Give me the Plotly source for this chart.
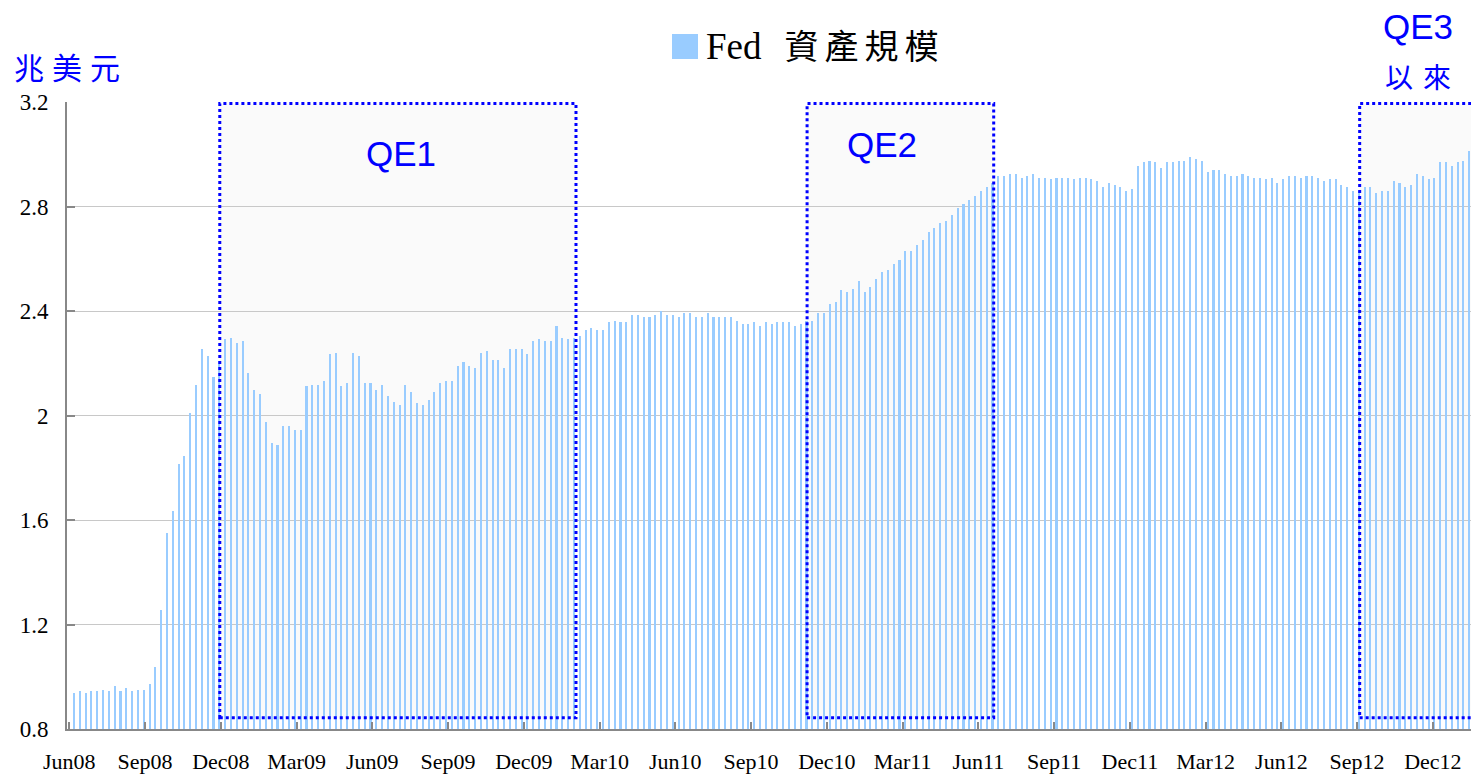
import plotly.graph_objects as go

# Weekly Fed total assets (trillion USD), first week = early Jun 2008
fed_assets = [
    0.939, 0.947, 0.939, 0.947, 0.947, 0.950, 0.947, 0.965, 0.947, 0.958,
    0.947, 0.950, 0.950, 0.973, 1.037, 1.255, 1.551, 1.634, 1.814, 1.845,
    2.010, 2.117, 2.255, 2.228, 2.147, 2.210, 2.293, 2.297, 2.278, 2.285,
    2.163, 2.098, 2.082, 1.975, 1.895, 1.887, 1.960, 1.960, 1.945, 1.945,
    2.113, 2.117, 2.117, 2.132, 2.235, 2.239, 2.113, 2.124, 2.239, 2.228,
    2.124, 2.124, 2.098, 2.117, 2.075, 2.052, 2.040, 2.117, 2.090, 2.048,
    2.040, 2.059, 2.090, 2.124, 2.132, 2.132, 2.189, 2.205, 2.189, 2.182,
    2.239, 2.247, 2.213, 2.213, 2.182, 2.255, 2.255, 2.255, 2.235, 2.285,
    2.293, 2.285, 2.285, 2.343, 2.297, 2.293, 2.297, 2.304, 2.327, 2.335,
    2.327, 2.327, 2.358, 2.362, 2.358, 2.358, 2.385, 2.385, 2.377, 2.377,
    2.385, 2.400, 2.385, 2.385, 2.377, 2.392, 2.392, 2.377, 2.377, 2.392,
    2.377, 2.377, 2.377, 2.377, 2.362, 2.351, 2.351, 2.358, 2.344, 2.358,
    2.351, 2.358, 2.358, 2.358, 2.344, 2.351, 2.360, 2.362, 2.392, 2.392,
    2.427, 2.435, 2.480, 2.473, 2.484, 2.515, 2.473, 2.492, 2.523, 2.549,
    2.557, 2.580, 2.595, 2.630, 2.630, 2.653, 2.672, 2.702, 2.718, 2.737,
    2.745, 2.768, 2.794, 2.810, 2.825, 2.840, 2.859, 2.875, 2.890, 2.917,
    2.917, 2.924, 2.924, 2.909, 2.917, 2.924, 2.909, 2.909, 2.905, 2.909,
    2.909, 2.909, 2.905, 2.909, 2.909, 2.905, 2.898, 2.875, 2.890, 2.882,
    2.875, 2.859, 2.867, 2.955, 2.970, 2.974, 2.970, 2.947, 2.970, 2.970,
    2.974, 2.974, 2.989, 2.982, 2.974, 2.932, 2.940, 2.940, 2.924, 2.917,
    2.917, 2.924, 2.917, 2.909, 2.909, 2.905, 2.909, 2.890, 2.905, 2.917,
    2.917, 2.909, 2.917, 2.917, 2.909, 2.898, 2.905, 2.905, 2.882, 2.875,
    2.859, 2.860, 2.875, 2.875, 2.852, 2.859, 2.859, 2.898, 2.890, 2.875,
    2.882, 2.924, 2.917, 2.905, 2.909, 2.970, 2.970, 2.955, 2.970, 2.974,
    3.013,
]
week_index = list(range(len(fed_assets)))

tick_labels = ["Jun08", "Sep08", "Dec08", "Mar09", "Jun09", "Sep09", "Dec09",
               "Mar10", "Jun10", "Sep10", "Dec10", "Mar11", "Jun11", "Sep11",
               "Dec11", "Mar12", "Jun12", "Sep12", "Dec12"]
tick_positions = [13.03 * i - 0.8 for i in range(len(tick_labels))]

y_ticks = [0.8, 1.2, 1.6, 2.0, 2.4, 2.8, 3.2]
y_tick_text = ["0.8", "1.2", "1.6", "2", "2.4", "2.8", "3.2"]

# QE periods in week-index units (start, end)
qe_names = ["QE1", "QE2", "QE3"]
qe_start = [25.08, 126.1, 221.15]
qe_end = [86.35, 158.2, 245.0]
qe_low, qe_high = 0.843, 3.194

W, H = 1471, 774
ML, MR, MT, MB = 67, 0, 102, 45
PW, PH = W - ML - MR, H - MT - MB

def px(x):
    return (x - ML) / PW

def py(y):
    return 1 - (y - MT) / PH

fig = go.Figure()
fig.add_trace(go.Bar(
    x=week_index, y=fed_assets, width=0.36,
    marker=dict(color="#99CCFF", line=dict(width=0)),
    name="Fed 資產規模", showlegend=False,
))

shapes = []
for s, e in zip(qe_start, qe_end):
    shapes.append(dict(type="rect", xref="x", yref="y", x0=s, x1=e, y0=qe_low, y1=qe_high,
                       fillcolor="#FAFAFA", line=dict(width=0), layer="below"))
    shapes.append(dict(type="rect", xref="x", yref="y", x0=s, x1=e, y0=qe_low, y1=qe_high,
                       fillcolor="rgba(0,0,0,0)", line=dict(color="#0000FF", width=3, dash="dot"),
                       layer="above"))
# legend swatch
shapes.append(dict(type="rect", xref="paper", yref="paper", x0=px(672), x1=px(698),
                   y0=py(59), y1=py(34), fillcolor="#99CCFF", line=dict(width=0)))

cjk = "'Noto Sans CJK TC', 'Noto Sans CJK SC', sans-serif"
serif = "'Liberation Serif', 'Times New Roman', " + cjk
sans = "'Liberation Sans', Arial, sans-serif"

annotations = [
    dict(text="<span style='font-size:37px'>Fed</span> <span style='letter-spacing:6px'>&nbsp;資產規模</span>",
         xref="paper", yref="paper",
         x=px(704), y=py(47), xanchor="left", yanchor="middle", showarrow=False,
         font=dict(family=serif, size=34, color="#000000")),
    dict(text="<span style='letter-spacing:8px'>兆美元</span>", xref="paper", yref="paper",
         x=px(12), y=py(66), xanchor="left", yanchor="middle", showarrow=False,
         font=dict(family=cjk, size=30, color="#0000FF")),
    dict(text="QE3", xref="paper", yref="paper", x=px(1418), y=py(27),
         xanchor="center", yanchor="middle", showarrow=False,
         font=dict(family=sans, size=35, color="#0000FF")),
    dict(text="<span style='letter-spacing:10px'>以來</span>", xref="paper", yref="paper",
         x=px(1423), y=py(76), xanchor="center", yanchor="middle", showarrow=False,
         font=dict(family=cjk, size=28, color="#0000FF")),
    dict(text="QE1", xref="paper", yref="paper", x=px(401), y=py(153),
         xanchor="center", yanchor="middle", showarrow=False,
         font=dict(family=sans, size=35, color="#0000FF")),
    dict(text="QE2", xref="paper", yref="paper", x=px(882), y=py(145),
         xanchor="center", yanchor="middle", showarrow=False,
         font=dict(family=sans, size=35, color="#0000FF")),
]

fig.update_layout(
    width=W, height=H,
    margin=dict(l=ML, r=MR, t=MT, b=MB, pad=0),
    paper_bgcolor="#FFFFFF", plot_bgcolor="#FFFFFF",
    bargap=0,
    shapes=shapes, annotations=annotations,
    showlegend=False,
    xaxis=dict(
        range=[-1.2, 240.3], tickmode="array", tickvals=tick_positions, ticktext=tick_labels,
        ticks="inside", ticklen=7, tickwidth=2, tickcolor="#888888",
        showline=True, linecolor="#888888", linewidth=2,
        showgrid=False, zeroline=False,
        tickfont=dict(family=serif, size=22, color="#000000"),
        ticklabelstandoff=12,
    ),
    yaxis=dict(
        range=[0.8, 3.2], tickmode="array", tickvals=y_ticks, ticktext=y_tick_text,
        ticks="inside", ticklen=8, tickwidth=2, tickcolor="#888888",
        showline=True, linecolor="#888888", linewidth=2,
        showgrid=True, gridcolor="#C8C8C8", gridwidth=1,
        zeroline=False,
        tickfont=dict(family=serif, size=23, color="#000000"),
        ticklabelstandoff=12,
    ),
)

fig.write_html("out.html",
               config={"displayModeBar": False},
               post_script="document.body.style.margin='0';document.body.style.overflow='hidden';")
